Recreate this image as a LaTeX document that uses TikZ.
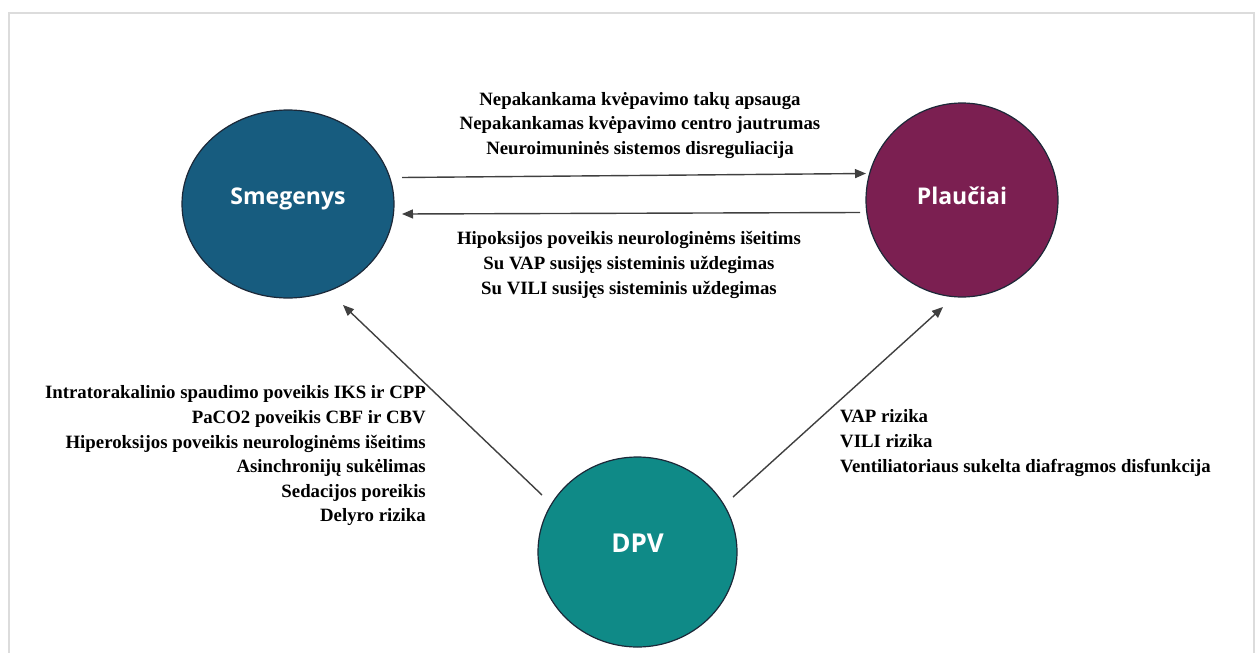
\documentclass[tikz,border=0pt]{standalone}
\usepackage{fontspec}
\setmainfont{Liberation Serif}
\newfontfamily\circfont{Open Sans}
\usetikzlibrary{arrows.meta,shapes.geometric}
\definecolor{smegcol}{RGB}{23,92,127}
\definecolor{plaucol}{RGB}{123,31,81}
\definecolor{dpvcol}{RGB}{15,138,135}
\definecolor{edgecol}{RGB}{28,40,56}
\definecolor{arrcol}{RGB}{64,64,64}
\definecolor{framecol}{RGB}{220,220,220}
\newcommand{\uplift}[2][0pt]{\raisebox{#1}[0pt][0pt]{#2}}
\tikzset{
  organ/.style={ellipse, draw=edgecol, line width=1.2pt, text=white,
    font=\circfont\bfseries\fontsize{23}{27}\selectfont, inner sep=0pt},
  effect/.style={-{Triangle[length=11pt,width=9pt]}, draw=arrcol, line width=1.4pt},
  notes/.style={font=\bfseries\fontsize{18.8}{24.6}\selectfont, inner sep=0pt}
}
\begin{document}
\begin{tikzpicture}[x=1pt,y=-1pt]
\useasboundingbox (0,0) rectangle (1259,653);
%frame
\draw [framecol, line width=2pt] (9,653)--(9,13)--(1254,13)--(1254,653);
%organs
\node [organ, fill=smegcol, minimum width=212pt, minimum height=188pt] (smeg) at (288,204) {\uplift{Smegenys}};
\node [organ, fill=plaucol, minimum width=192pt, minimum height=194pt] (plau) at (962,200) {\uplift[-4pt]{Plaučiai}};
\node [organ, fill=dpvcol, minimum width=199pt, minimum height=190pt,
  font=\circfont\bfseries\fontsize{26}{30}\selectfont] (dpv) at (637.5,552) {\uplift{DPV}};
%arrow ends
\coordinate (smegR1) at (402,177.5);
\coordinate (plauL1) at (866,173.5);
\coordinate (plauL2) at (860,212.5);
\coordinate (smegR2) at (402,214);
\coordinate (dpvL) at (542,495);
\coordinate (smegB) at (343,305);
\coordinate (dpvR) at (733,497);
\coordinate (plauB) at (943,307);
\draw [effect] (smegR1)--(plauL1);
\draw [effect] (plauL2)--(smegR2);
\draw [effect] (dpvL)--(smegB);
\draw [effect] (dpvR)--(plauB);
%explaination
\node [notes, align=center] (toptxt) at (640,125.5) {Nepakankama kvėpavimo takų apsauga\\Nepakankamas kvėpavimo centro jautrumas\\Neuroimuninės sistemos disreguliacija};
\node [notes, align=center] (bottxt) at (629,265) {Hipoksijos poveikis neurologinėms išeitims\\Su VAP susijęs sisteminis uždegimas\\Su VILI susijęs sisteminis uždegimas};
\node [notes, align=right, anchor=east] (lefttxt) at (426,456) {Intratorakalinio spaudimo poveikis IKS ir CPP\\PaCO2 poveikis CBF ir CBV\\Hiperoksijos poveikis neurologinėms išeitims\\Asinchronijų sukėlimas\\Sedacijos poreikis\\Delyro rizika};
\node [notes, align=left, anchor=west] (righttxt) at (840,443) {VAP rizika\\VILI rizika\\Ventiliatoriaus sukelta diafragmos disfunkcija};
\end{tikzpicture}
\end{document}
